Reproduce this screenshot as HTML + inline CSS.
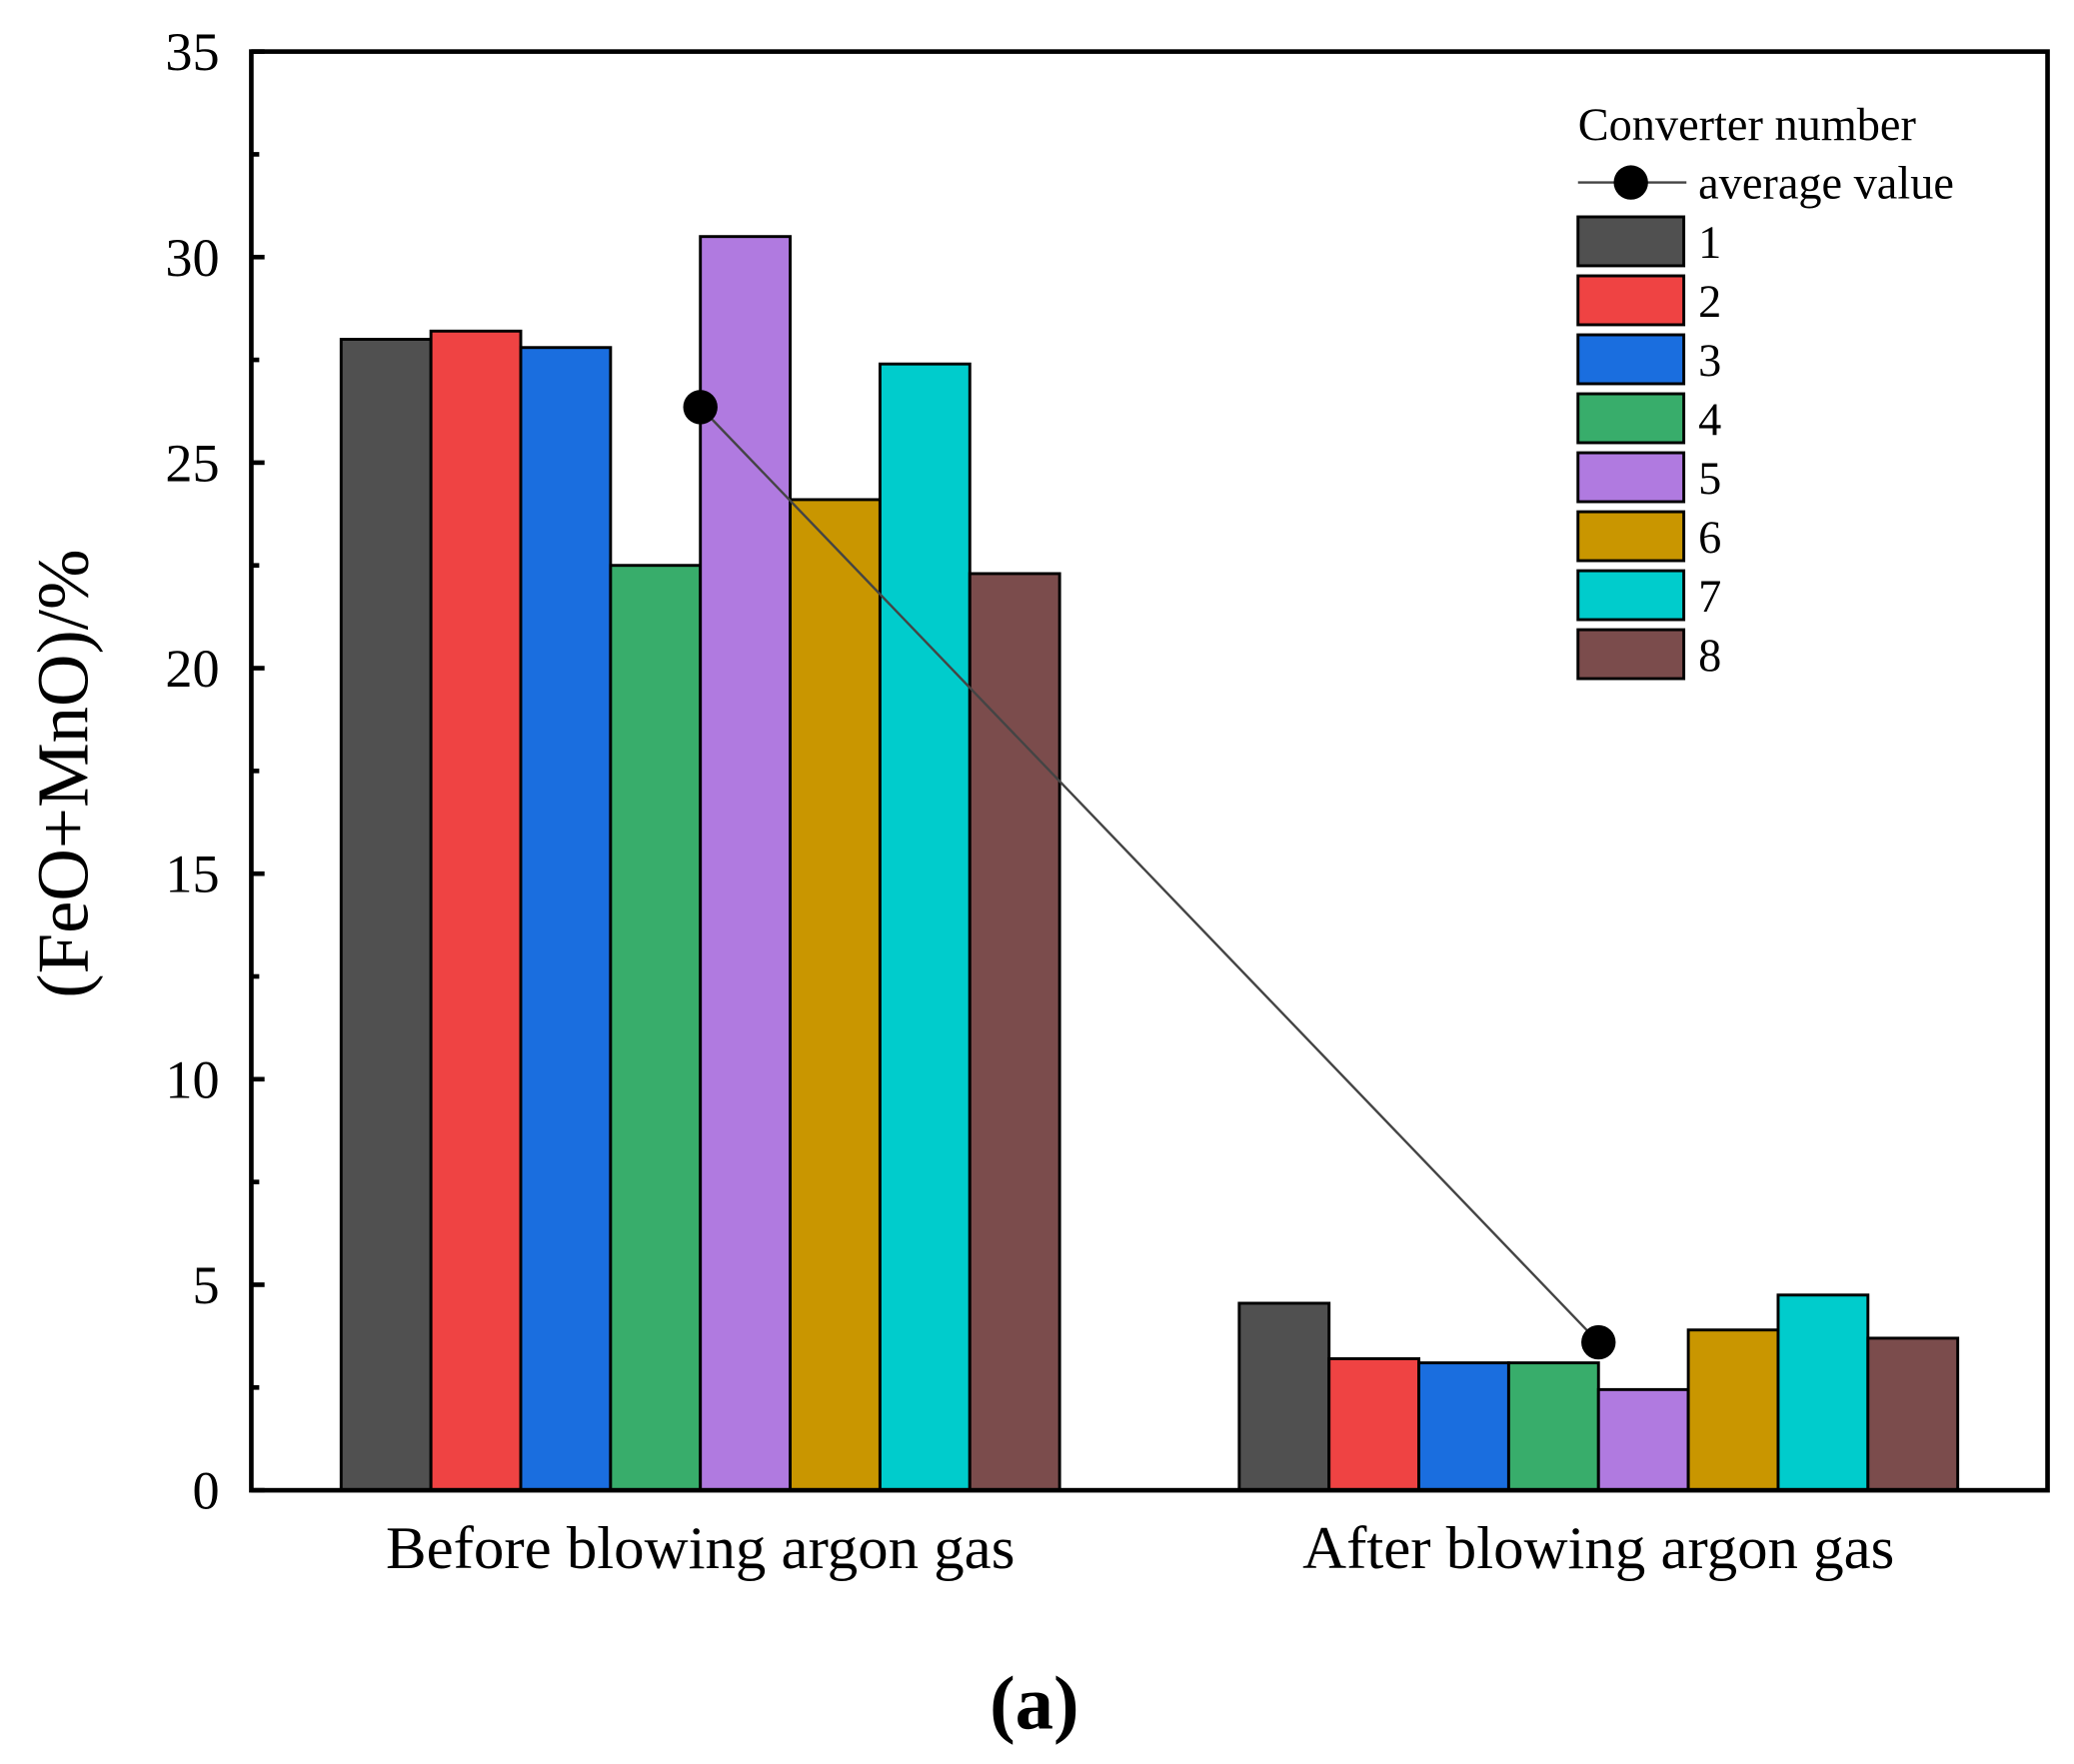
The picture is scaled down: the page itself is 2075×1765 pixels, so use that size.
<!DOCTYPE html>
<html><head><meta charset="utf-8"><style>
html,body{margin:0;padding:0;background:#fff}
svg{display:block;font-family:"Liberation Serif",serif}
</style></head><body>
<svg id="chart" width="2075" height="1765" viewBox="0 0 1568 1334" preserveAspectRatio="none" xmlns="http://www.w3.org/2000/svg">
<g id="bars"></g>
<g id="avg"></g>
<g id="axes"></g>
<g id="legend"></g>
</svg>
<script>
const categories = ["Before blowing argon gas", "After blowing argon gas"];
const converters = ["1","2","3","4","5","6","7","8"];
const beforeValues = [28.0, 28.2, 27.8, 22.5, 30.5, 24.1, 27.4, 22.3];
const afterValues = [4.55, 3.2, 3.1, 3.1, 2.45, 3.9, 4.75, 3.7];
const averageValues = [26.35, 3.6];
const yTicks = [0, 5, 10, 15, 20, 25, 30, 35];
const colors = ["#505050","#EF4343","#1A6EDF","#38AD6B","#B07AE0","#C99600","#00CCCC","#7B4C4C"];

const NS = "http://www.w3.org/2000/svg";
const L = 190, R = 1548, T = 39, B = 1127;
const yMax = 35;
const y = v => B - v / yMax * (B - T);
const xc = i => L + (i + 0.5) * (R - L) / 2;
const groupW = 0.8 * (R - L) / 2;
const barW = groupW / converters.length;
function mk(tag, attrs, parent) {
  const e = document.createElementNS(NS, tag);
  for (const k in attrs) e.setAttribute(k, attrs[k]);
  parent.appendChild(e);
  return e;
}
const gB = document.getElementById('bars');
[beforeValues, afterValues].forEach((vals, ci) => {
  vals.forEach((v, j) => {
    const x0 = xc(ci) - groupW / 2 + j * barW;
    const r = mk('rect', {x: x0, y: y(v), width: barW, height: B - y(v), fill: colors[j], stroke: '#000', 'stroke-width': 2.2}, gB);
    
    
  });
});
const gA = document.getElementById('avg');
const ln = mk('line', {x1: xc(0), y1: y(averageValues[0]), x2: xc(1), y2: y(averageValues[1]), stroke: '#444', 'stroke-width': 1.8}, gA);


averageValues.forEach((v, i) => {
  const c = mk('circle', {cx: xc(i), cy: y(v), r: 13, fill: '#000'}, gA);
  
  
});
const gX = document.getElementById('axes');
const fr = mk('rect', {x: L, y: T, width: R - L, height: B - T, fill: 'none', stroke: '#000', 'stroke-width': 3.5}, gX);


yTicks.forEach(t => {
  mk('line', {x1: L, x2: L + 10, y1: y(t), y2: y(t), stroke: '#000', 'stroke-width': 3.5}, gX);
  const tx = mk('text', {x: 166, y: y(t) + 14, 'text-anchor': 'end', 'font-size': 41}, gX);
  tx.textContent = t;
  
  
});
for (let i = 0; i < yTicks.length - 1; i++) {
  const m = (yTicks[i] + yTicks[i + 1]) / 2;
  mk('line', {x1: L, x2: L + 6, y1: y(m), y2: y(m), stroke: '#000', 'stroke-width': 3.5}, gX);
}
categories.forEach((c, i) => {
  const tx = mk('text', {x: xc(i), y: 1186, 'text-anchor': 'middle', 'font-size': 46}, gX);
  tx.textContent = c;
  
  
});
const yt = mk('text', {x: 0, y: 0, 'text-anchor': 'middle', 'font-size': 55, transform: 'translate(66 585) rotate(-90)'}, gX);
yt.textContent = '(FeO+MnO)/%';


const cap = mk('text', {x: 782, y: 1307, 'text-anchor': 'middle', 'font-size': 58, 'font-weight': 'bold'}, gX);
cap.textContent = '(a)';



const gL = document.getElementById('legend');
const lt = mk('text', {x: 1193, y: 106, 'font-size': 35}, gL);
lt.textContent = 'Converter number';


mk('line', {x1: 1193, x2: 1275, y1: 138, y2: 138, stroke: '#444', 'stroke-width': 1.8}, gL);
mk('circle', {cx: 1233, cy: 138, r: 13, fill: '#000'}, gL);
const la = mk('text', {x: 1284, y: 150, 'font-size': 35}, gL);
la.textContent = 'average value';


converters.forEach((c, j) => {
  const top = 164 + j * 44.6;
  const r = mk('rect', {x: 1193, y: top, width: 80, height: 37, fill: colors[j], stroke: '#000', 'stroke-width': 2.2}, gL);
  
  
  const t = mk('text', {x: 1284, y: top + 31, 'font-size': 35}, gL);
  t.textContent = c;
  
  
});
</script>
</body></html>
